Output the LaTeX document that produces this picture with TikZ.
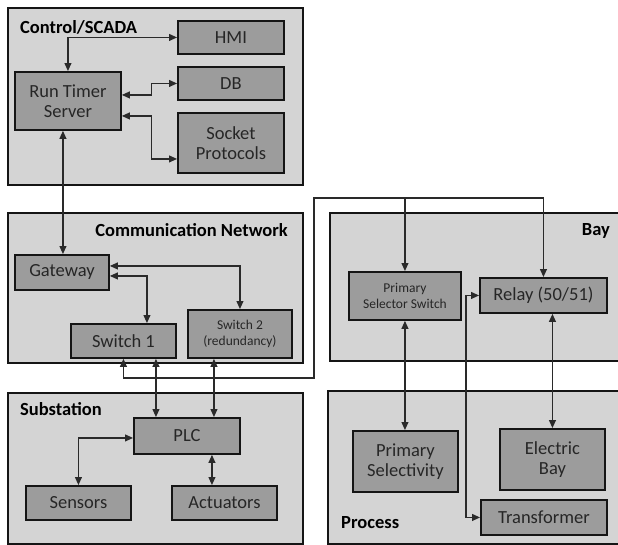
\documentclass[tikz,border=0pt]{standalone}
\usepackage{fontspec}
\setmainfont{Carlito}
\usetikzlibrary{arrows.meta}
\definecolor{grpfill}{HTML}{D4D4D4}
\definecolor{boxfill}{HTML}{9C9C9C}
\definecolor{edge}{HTML}{151515}
\definecolor{wire}{HTML}{2A2A2A}
\definecolor{txt}{HTML}{262626}
\tikzset{
  grp/.style={draw=edge, fill=grpfill, line width=1.9pt, anchor=north west, inner sep=0pt},
  blk/.style={draw=edge, fill=boxfill, line width=1.9pt, anchor=north west, inner sep=1pt,
    align=center, text=txt, font=\fontsize{18.5}{20.5}\selectfont},
  smallblk/.style={blk, font=\fontsize{13.5}{16}\selectfont},
  ttl/.style={font=\bfseries\fontsize{18.5}{20}\selectfont, text=black, inner sep=0pt},
  wirestyle/.style={draw=wire, line width=1.1pt, {Triangle[length=8pt,width=7pt]}-{Triangle[length=8pt,width=7pt]}},
  wireto/.style={draw=wire, line width=1.1pt, -{Triangle[length=8pt,width=7pt]}}
}
\begin{document}
\begin{tikzpicture}[x=1pt,y=-1pt]
\useasboundingbox (0,0) rectangle (618,544);
\fill[white] (0,0) rectangle (618,544);
% groups
\node[grp, minimum width=295pt, minimum height=177pt] (gctrl) at (7,7) {};
\node[grp, minimum width=295pt, minimum height=150pt] (gcomm) at (7,212) {};
\node[grp, minimum width=295pt, minimum height=151pt] (gsub) at (7,392) {};
\node[grp, minimum width=300pt, minimum height=148pt] (gbay) at (329,212) {};
\node[grp, minimum width=302pt, minimum height=153pt] (gproc) at (327,390) {};
% titles
\node[ttl, anchor=west] (tctrl) at (20,27) {Control/SCADA};
\node[ttl, anchor=east] (tcomm) at (288,230) {Communication Network};
\node[ttl, anchor=east] (tbay) at (610,231) {Bay};
\node[ttl, anchor=west] (tsub) at (20,409) {Substation};
\node[ttl, anchor=west] (tproc) at (341,523) {Process};
% blocks
\node[blk, minimum width=106pt, minimum height=33pt] (hmi) at (177,20) {HMI};
\node[blk, minimum width=106pt, minimum height=33pt] (db) at (177,66) {DB};
\node[blk, minimum width=106pt, minimum height=60pt] (sock) at (177,112) {Socket\\Protocols};
\node[blk, minimum width=106pt, minimum height=58pt] (server) at (14,71) {Run Timer\\Server};
\node[blk, minimum width=94pt, minimum height=35pt] (gw) at (14,254) {Gateway};
\node[blk, minimum width=105pt, minimum height=34pt] (sw1) at (70,323) {Switch 1};
\node[smallblk, minimum width=104pt, minimum height=48pt] (sw2) at (187,309) {Switch 2\\(redundancy)};
\node[smallblk, minimum width=112pt, minimum height=48pt] (pss) at (348,271) {Primary\\Selector Switch};
\node[blk, minimum width=127pt, minimum height=35pt] (relay) at (479,277) {Relay (50/51)};
\node[blk, minimum width=105pt, minimum height=61pt] (psel) at (352,430) {Primary\\Selectivity};
\node[blk, minimum width=105pt, minimum height=61pt] (elec) at (499,428) {Electric\\Bay};
\node[blk, minimum width=126pt, minimum height=35pt] (trans) at (480,499) {Transformer};
\node[blk, minimum width=106pt, minimum height=36pt] (plc) at (133,417) {PLC};
\node[blk, minimum width=105pt, minimum height=34pt] (sens) at (25,485) {Sensors};
\node[blk, minimum width=105pt, minimum height=34pt] (act) at (171,485) {Actuators};
% connectors: control
\draw[wirestyle] (hmi.west) -| (server.north);
\draw[wirestyle] ([yshift=6pt]server.east) -- ++(30,0) |- (db.west);
\draw[wirestyle] ([yshift=-15pt]server.east) -- ++(30,0) |- ([yshift=-16pt]sock.west);
\draw[wirestyle] ([xshift=-5pt]server.south) -- ([xshift=-5pt]server.south |- gw.north);
% communication
\draw[wirestyle] ([yshift=6.5pt]gw.east) -| (sw2.north);
\draw[wirestyle] ([yshift=-3.5pt]gw.east) -| ([xshift=23.5pt]sw1.north);
% switch 1 to bay
\coordinate (c1) at (314,378);
\coordinate (c2) at (314,198);
\draw[wirestyle] (sw1.south) |- (c1) -- (c2) -| (relay.north);
\draw[wireto] (pss.north |- c2) -- (pss.north);
% switches to PLC
\draw[wirestyle] ([xshift=32.5pt]sw1.south) -- ([xshift=32.5pt]sw1.south |- plc.north);
\draw[wirestyle] ([xshift=-26pt]sw2.south) -- ([xshift=-26pt]sw2.south |- plc.north);
% substation
\draw[wirestyle] ([yshift=-2pt]plc.west) -| (sens.north);
\draw[wirestyle] ([xshift=25pt]plc.south) -- ([xshift=25pt]plc.south |- act.north);
% bay to process
\draw[wirestyle] (pss.south) -- (pss.south |- psel.north);
\draw[wirestyle] (elec.north |- relay.south) -- (elec.north);
\draw[wirestyle] (relay.west) -- ++(-13,0) |- (trans.west);
\end{tikzpicture}
\end{document}
